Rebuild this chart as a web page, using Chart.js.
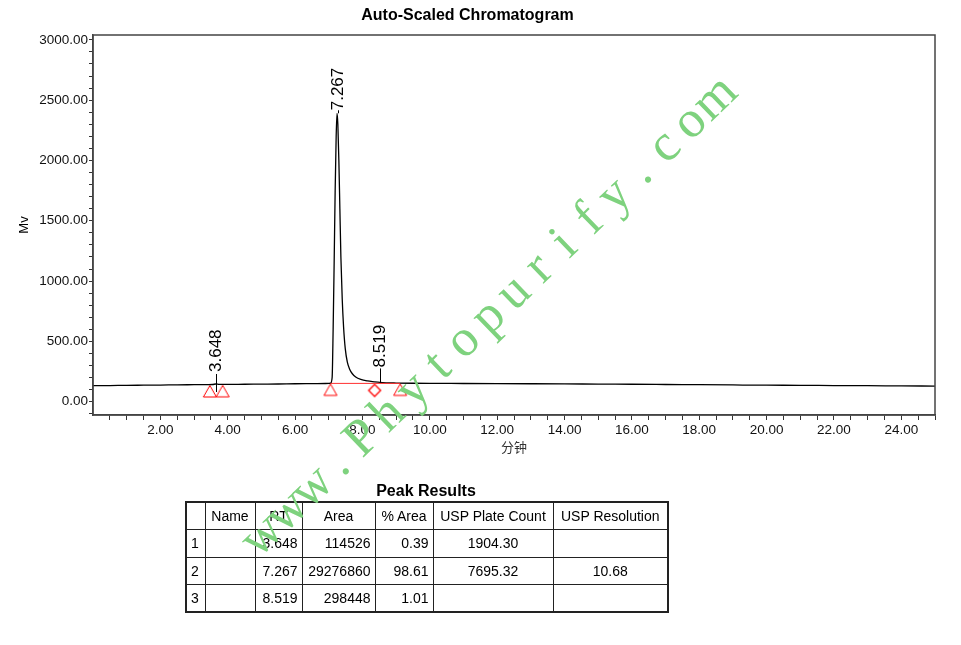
<!DOCTYPE html>
<html>
<head>
<meta charset="utf-8">
<script src="https://cdn.jsdelivr.net/npm/chart.js@4"></script>
<style>
html,body{margin:0;padding:0;background:#fff;width:961px;height:645px;overflow:hidden;font-family:"Liberation Sans",Arial,sans-serif;}
#wrap{position:relative;width:961px;height:645px;}
#c{position:absolute;left:0;top:0;}
#wmc{position:absolute;left:0;top:0;pointer-events:none;}
#ptitle{position:absolute;left:185px;width:482px;top:481px;text-align:center;font-weight:bold;font-size:16px;line-height:20px;color:#000;}
#tbl{position:absolute;left:185px;top:501px;border-collapse:collapse;border:2px solid #222;font-size:14px;table-layout:fixed;width:482px;color:#000;}
#tbl td{border:1px solid #222;height:27.5px;padding:0 4px;white-space:nowrap;box-sizing:border-box;font-weight:normal;}
</style>
</head>
<body>
<div id="wrap">
<canvas id="c" width="961" height="645"></canvas>
<div id="ptitle">Peak Results</div>
<table id="tbl"><colgroup><col style="width:19px"><col style="width:50px"><col style="width:47px"><col style="width:73px"><col style="width:58px"><col style="width:120px"><col style="width:115px"></colgroup><tbody id="tb"></tbody></table>
<canvas id="wmc" width="961" height="645"></canvas>
</div>
<script>
// ---- chromatogram data (minutes, mV) ----
const timeMin = [0, 0.5, 1, 1.5, 2, 2.5, 3, 3.4, 3.55, 3.648, 3.75, 3.9, 4.5, 5, 5.5, 6, 6.5, 6.9, 7.05, 7.1, 7.13, 7.16, 7.19, 7.22, 7.245, 7.27, 7.3, 7.33, 7.36, 7.4, 7.44, 7.49, 7.55, 7.62, 7.7, 7.8, 7.95, 8.15, 8.35, 8.519, 8.7, 9.0, 9.5, 10, 11, 12, 13, 14, 15, 16, 17, 18, 19, 20, 21, 22, 23, 24, 25];
const signalMv = [133, 134, 136, 137, 138, 140, 141, 142, 143, 147, 144, 144, 145, 146, 147, 149, 150, 151, 153, 200, 600, 1150, 1750, 2200, 2391, 2300, 2000, 1600, 1200, 850, 620, 440, 330, 270, 232, 205, 185, 172, 165, 160, 157, 155, 153, 152, 151, 150, 149, 148, 146, 145, 143, 141, 139, 137, 136, 134, 133, 131, 130];

// integration baseline (red)
const baselineTime = [7.05, 9.12];
const baselineMv = [152, 152];

// peak start/end markers (triangles) and drop-line marker (diamond)
const triangleTime = [3.47, 3.85, 7.05, 9.12];
const triangleMv = [139, 140, 152, 152];
const diamondTime = [8.36];
const diamondMv = [152];

// peak labels
const peakRT = [3.648, 7.267, 8.519];
const peakApexMv = [147, 2391, 160];
const peakLabels = ['3.648', '7.267', '8.519'];

// table
const tableHeader = ['', 'Name', 'RT', 'Area', '% Area', 'USP Plate Count', 'USP Resolution'];
const rowNum = ['1', '2', '3'];
const rowName = ['', '', ''];
const rowRT = ['3.648', '7.267', '8.519'];
const rowArea = ['114526', '29276860', '298448'];
const rowPctArea = ['0.39', '98.61', '1.01'];
const rowPlate = ['1904.30', '7695.32', ''];
const rowRes = ['', '10.68', ''];

// watermark text
const watermarkText = 'www.Phytopurify.com';

// ---- styles ----
const colAlign = ['left', 'left', 'right', 'right', 'right', 'center', 'center'];
const labelStyle = [
  {below: 8, above: 10, gap: 2},
  {below: 0, above: 3, gap: 0},
  {below: 0, above: 14, gap: 1}
];
const wmStyle = {startX: 272, startY: 546, pitch: 35, angleDeg: 44, font: '52px "Liberation Serif", "Times New Roman", serif', color: '#7ed27e'};

// build table
(function(){
  const tb = document.getElementById('tb');
  let h = '<tr>' + tableHeader.map(t => '<td style="text-align:center">' + t + '</td>').join('') + '</tr>';
  for (let i = 0; i < rowNum.length; i++) {
    const cells = [rowNum[i], rowName[i], rowRT[i], rowArea[i], rowPctArea[i], rowPlate[i], rowRes[i]];
    h += '<tr>' + cells.map((t, j) => '<td style="text-align:' + colAlign[j] + '">' + t + '</td>').join('') + '</tr>';
  }
  tb.innerHTML = h;
})();

// watermark (fixed character pitch along a diagonal baseline)
(function(){
  const g = document.getElementById('wmc').getContext('2d');
  const a = wmStyle.angleDeg * Math.PI / 180;
  g.font = wmStyle.font;
  g.fillStyle = wmStyle.color;
  g.textAlign = 'center';
  g.textBaseline = 'alphabetic';
  [...watermarkText].forEach((ch, i) => {
    const d = i * wmStyle.pitch;
    g.save();
    g.translate(wmStyle.startX + d * Math.cos(a), wmStyle.startY - d * Math.sin(a));
    g.rotate(-a);
    g.fillText(ch, 0, 0);
    g.restore();
  });
})();

function triangleImg() {
  const c = document.createElement('canvas');
  c.width = 16; c.height = 28;
  const g = c.getContext('2d');
  g.strokeStyle = '#ff0000'; g.lineWidth = 1;
  g.beginPath(); g.moveTo(8, 14.5); g.lineTo(14.5, 26); g.lineTo(1.5, 26); g.closePath(); g.stroke();
  return c;
}
function diamondImg() {
  const c = document.createElement('canvas');
  c.width = 16; c.height = 30;
  const g = c.getContext('2d');
  g.strokeStyle = '#ff0000'; g.lineWidth = 1.3;
  g.beginPath(); g.moveTo(8, 16); g.lineTo(14, 22); g.lineTo(8, 28); g.lineTo(2, 22); g.closePath(); g.stroke();
  return c;
}

const boxPlugin = {
  id: 'box',
  afterDraw(chart) {
    const {ctx, chartArea: a} = chart;
    ctx.save();
    ctx.strokeStyle = '#444';
    ctx.lineWidth = 1.5;
    ctx.strokeRect(a.left, a.top, a.right - a.left, a.bottom - a.top);
    ctx.restore();
  }
};

const peakLabelPlugin = {
  id: 'peakLabels',
  afterDatasetsDraw(chart) {
    const {ctx, scales: {x, y}} = chart;
    ctx.save();
    ctx.strokeStyle = '#000';
    ctx.lineWidth = 1;
    ctx.fillStyle = '#000';
    ctx.font = '17px "Liberation Sans", Arial, sans-serif';
    peakRT.forEach((rt, i) => {
      const px = Math.round(x.getPixelForValue(rt)) + 0.5;
      const py = y.getPixelForValue(peakApexMv[i]);
      const s = labelStyle[i];
      ctx.beginPath();
      ctx.moveTo(px, py + s.below);
      ctx.lineTo(px, py - s.above);
      ctx.stroke();
      ctx.save();
      ctx.translate(px, py - s.above - s.gap);
      ctx.rotate(-Math.PI / 2);
      ctx.textAlign = 'left';
      ctx.textBaseline = 'middle';
      ctx.fillText(peakLabels[i], 0, 0);
      ctx.restore();
    });
    ctx.restore();
  }
};

const tickFont = {family: '"Liberation Sans", Arial, sans-serif', size: 13.5};

new Chart(document.getElementById('c'), {
  type: 'line',
  data: {
    datasets: [
      {
        data: baselineTime.map((t, i) => ({x: t, y: baselineMv[i]})),
        borderColor: '#ff3030', borderWidth: 1, pointRadius: 0, tension: 0
      },
      {
        data: timeMin.map((t, i) => ({x: t, y: signalMv[i]})),
        borderColor: '#000', borderWidth: 1.3, pointRadius: 0,
        cubicInterpolationMode: 'monotone'
      },
      {
        data: triangleTime.map((t, i) => ({x: t, y: triangleMv[i]})),
        showLine: false, pointStyle: triangleImg(), pointRadius: 8
      },
      {
        data: diamondTime.map((t, i) => ({x: t, y: diamondMv[i]})),
        showLine: false, pointStyle: diamondImg(), pointRadius: 8
      }
    ]
  },
  options: {
    responsive: false,
    animation: false,
    devicePixelRatio: 1,
    layout: {padding: {left: 0, right: 26, top: 0, bottom: 185}},
    plugins: {
      legend: {display: false},
      tooltip: {enabled: false},
      title: {
        display: true, text: 'Auto-Scaled Chromatogram', color: '#000',
        font: {family: '"Liberation Sans", Arial, sans-serif', size: 16, weight: 'bold'},
        padding: {top: 6.4, bottom: 9.4}
      }
    },
    scales: {
      x: {
        type: 'linear', min: 0, max: 25,
        afterFit(s) { s.height = 45; },
        ticks: {
          stepSize: 0.5, autoSkip: false, maxRotation: 0, color: '#111', font: tickFont, padding: 2,
          includeBounds: false,
          callback: v => (v > 0 && Math.abs(v % 2) < 1e-9) ? v.toFixed(2) : ''
        },
        grid: {drawOnChartArea: false, drawTicks: true, tickLength: 5, lineWidth: 1,
          color: c => (c.tick && c.tick.value === 0) ? 'rgba(0,0,0,0)' : '#333'},
        border: {display: true, color: '#444', width: 1.5},
        title: {display: true, text: '分钟', color: '#333',
          font: {family: '"Noto Sans CJK SC", sans-serif', size: 13}, padding: {top: 0, bottom: 5}}
      },
      y: {
        type: 'linear', min: -110, max: 3040,
        afterFit(s) { s.width = 93; },
        ticks: {
          stepSize: 100, autoSkip: false, color: '#111', font: tickFont, padding: 1,
          includeBounds: false,
          callback: v => (Math.abs(v % 500) < 1e-9) ? v.toFixed(2) : ''
        },
        grid: {drawOnChartArea: false, drawTicks: true, tickLength: 4, color: '#333', lineWidth: 1},
        border: {display: true, color: '#444', width: 1.5},
        title: {display: true, text: 'Mv', color: '#000',
          font: {family: '"Liberation Sans", Arial, sans-serif', size: 13}, padding: {top: 17, bottom: 0}}
      }
    }
  },
  plugins: [boxPlugin, peakLabelPlugin]
});
</script>
</body>
</html>
